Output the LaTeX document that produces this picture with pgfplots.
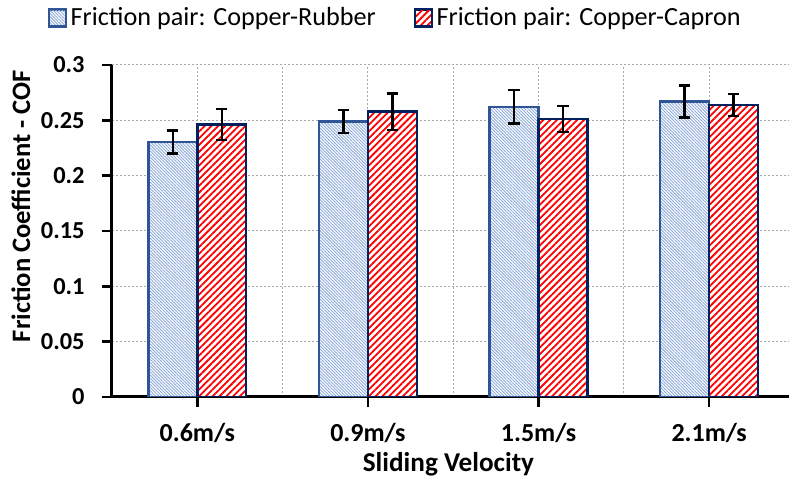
\documentclass[border=0pt]{standalone}
\usepackage{pgfplots}
\pgfplotsset{compat=1.18}
\usepackage{fontspec}
\setmainfont{Carlito}
\usetikzlibrary{patterns.meta}
\definecolor{rubline}{RGB}{142,170,219}
\definecolor{rubdraw}{RGB}{47,85,151}
\definecolor{capdraw}{RGB}{0,32,96}
\definecolor{gridc}{RGB}{170,170,170}
\begin{document}
\begin{tikzpicture}
\path[use as bounding box] (-56pt,-41.5pt) rectangle (338.5pt,198.5pt);
\begin{axis}[
  at={(0,0)}, anchor=south west,
  scale only axis,
  width=338.5pt, height=166pt,
  xmin=-0.5, xmax=3.468,
  ymin=0, ymax=0.3,
  axis x line=bottom, axis y line=left,
  axis line style={-, line width=1.5pt, black},
  xtick={0,1,2,3},
  xticklabels={0.6m/s,0.9m/s,1.5m/s,2.1m/s},
  minor xtick={0.5,1.5,2.5},
  ytick={0,0.05,0.1,0.15,0.2,0.25,0.3},
  yticklabels={0,0.05,0.1,0.15,0.2,0.25,0.3},
  tick align=outside,
  major tick length=5pt,
  minor tick length=0pt,
  tick style={line width=1.2pt, black},
  xmajorgrids, xminorgrids, ymajorgrids,
  major grid style={gridc, line width=0.5pt, dash pattern=on 1pt off 1pt},
  minor grid style={gridc, line width=0.5pt, dash pattern=on 1pt off 1pt},
  xticklabel style={font=\fontsize{13}{15}\selectfont\bfseries,
    anchor=north, inner sep=0pt, yshift=-8pt},
  yticklabel style={font=\fontsize{12.2}{14}\selectfont\bfseries,
    anchor=east, inner sep=0pt, xshift=-8.5pt},
  xlabel={Sliding Velocity},
  ylabel={Friction Coefficient - COF},
  xlabel style={font=\fontsize{13.6}{16}\selectfont\bfseries,
    at={(axis description cs:0.497,-0.203)}, anchor=center},
  ylabel style={font=\fontsize{13.3}{16}\selectfont\bfseries,
    at={(axis description cs:-0.1345,0.575)}, anchor=center},
  ybar, bar width=0.287,
  legend style={at={(axis description cs:0.42,1.1416)}, anchor=center,
    draw=none, fill=none, legend columns=2,
    font=\fontsize{13.1}{15}\selectfont,
    /tikz/every even column/.append style={column sep=17pt}},
  legend image code/.code={\draw[#1, line width=0.9pt] (0pt,-4.2pt) rectangle (8.5pt,4.2pt);},
  error bars/error bar style={line width=1.2pt, black},
  error bars/error mark options={rotate=90, mark size=2.8pt, line width=1.2pt, black},
]
\addplot[draw=rubdraw, line width=1.2pt, preaction={fill=white},
  pattern={Lines[angle=-45, distance=1.1pt, line width=0.45pt]}, pattern color=rubline,
  bar shift=-0.1435,
  error bars/.cd, y dir=both, y explicit]
  coordinates {
    (0,0.2304) +- (0,0.0105)
    (1,0.2488) +- (0,0.0105)
    (2,0.2623) +- (0,0.015)
    (3,0.2669) +- (0,0.0145)
  };
\addlegendentry{Friction pair: Copper-Rubber}
\addplot[draw=capdraw, line width=1.2pt, preaction={fill=white},
  pattern={Lines[angle=45, distance=2.4pt, line width=0.9pt]}, pattern color=red,
  bar shift=0.1435,
  error bars/.cd, y dir=both, y explicit]
  coordinates {
    (0,0.2464) +- (0,0.014)
    (1,0.2578) +- (0,0.0165)
    (2,0.2512) +- (0,0.0115)
    (3,0.2638) +- (0,0.010)
  };
\addlegendentry{Friction pair: Copper-Capron}
\end{axis}
\end{tikzpicture}
\end{document}
